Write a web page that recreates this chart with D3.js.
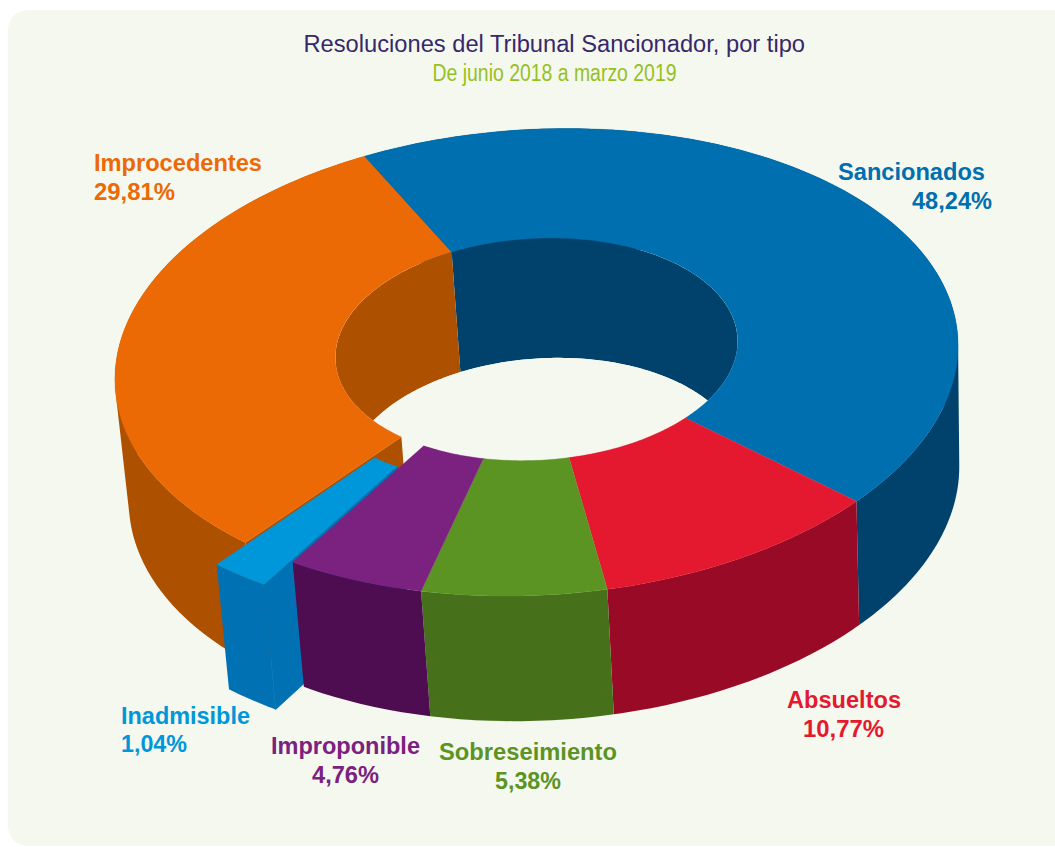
<!DOCTYPE html>
<html lang="es">
<head>
<meta charset="utf-8">
<title>Resoluciones del Tribunal Sancionador, por tipo</title>
<script src="https://cdn.jsdelivr.net/npm/d3@7/dist/d3.min.js"></script>
<style>
  html, body { margin: 0; padding: 0; background: #ffffff; }
  svg { display: block; }
  text { font-family: "Liberation Sans", Arial, sans-serif; }
</style>
</head>
<body>
<svg id="chart" width="1055" height="847"></svg>
<script>
// ---- data ----
const titleText = "Resoluciones del Tribunal Sancionador, por tipo";
const subtitleText = "De junio 2018 a marzo 2019";
const categories = ["Sancionados", "Absueltos", "Sobreseimiento", "Improponible", "Inadmisible", "Improcedentes"];
// Percentages printed on the chart's labels
const percentages = [48.24, 10.77, 5.38, 4.76, 1.04, 29.81];
// Wedge sizes as they are actually drawn in the picture (they differ from the printed percentages)
const drawnShares = [44.3, 10.36, 6.61, 5.06, 2.19, 31.47];

// ---- styles ----
const topColors  = ["#006fb0", "#e4192f", "#5c9424", "#7b2180", "#0097da", "#ec6a06"];
const wallColors = ["#00426b", "#990a26", "#46701a", "#4d0d50", "#0071b3", "#ad5000"];
const labelLayout = [
  { name: [838, 180, 147], pct: [912, 209, 80] },
  { name: [787, 708, 114], pct: [803, 737, 81] },
  { name: [439, 760, 178], pct: [495, 789, 66] },
  { name: [271, 754, 149], pct: [312, 783, 67] },
  { name: [121, 724, 129], pct: [121, 752, 66] },
  { name: [94, 171, 168],  pct: [94, 200, 81] }
];

// ---- ring projection ----
const width = 1055, height = 847;
const rad = Math.PI / 180;
const cx = 536.5, cy = 345.5, A = 420.5, B = 232;
const persp = 0.072, shear = -0.04;
const innerR = 0.478;
const explodedIndex = 4, explode = 0.1;
const base = { sx: 0.985, sy: 1.0146, dx: 7.5, dy: 121.4 };
const startDeg = 334.2;

const xScale = d3.scaleLinear().domain([-1, 1]).range([cx - A, cx + A]);
const yScale = d3.scaleLinear().domain([-1, 1]).range([cy - B, cy + B]);

function project(angle, r, bottom, off) {
  const X = (off ? off[0] : 0) + r * Math.sin(angle);
  const Y = (off ? off[1] : 0) - r * Math.cos(angle);
  const w = 1 - persp * Y;
  let px = xScale(X / w) - cx;
  let py = yScale(Y / w) - cy + shear * px;
  if (bottom) {
    px = px * base.sx + base.dx;
    py = py * base.sy + base.dy;
  }
  return [cx + px, cy + py];
}

function arcPts(a0, a1, r, bottom, off) {
  const n = Math.max(2, Math.ceil(Math.abs(a1 - a0) / rad));
  return d3.range(n + 1).map(i => project(a0 + (a1 - a0) * i / n, r, bottom, off));
}

const line = d3.line();

function topPath(s) {
  return line(arcPts(s.a0, s.a1, 1, false, s.off).concat(arcPts(s.a1, s.a0, innerR, false, s.off))) + "Z";
}
// Walls are overlapping quads, all wound the same way, so the silhouette stays solid
function wallPath(s, r) {
  const t = arcPts(s.a0, s.a1, r, false, s.off);
  const b = arcPts(s.a0, s.a1, r, true, s.off);
  return d3.range(t.length - 1).map(i => {
    const j = Math.min(i + 2, t.length - 1);
    const quad = [t[i], t[j], b[j], b[i]];
    if (d3.polygonArea(quad) < 0) quad.reverse();
    return line(quad) + "Z";
  }).join("");
}
function cutPath(angle, off) {
  return line([
    project(angle, 1, false, off), project(angle, innerR, false, off),
    project(angle, innerR, true, off), project(angle, 1, true, off)
  ]) + "Z";
}

const pie = d3.pie().sort(null)
  .startAngle(startDeg * rad)
  .endAngle(startDeg * rad + 2 * Math.PI);

const slices = pie(drawnShares).map((d, i) => {
  const s = { i, a0: d.startAngle, a1: d.endAngle, off: null };
  if (i === explodedIndex) {
    const m = (s.a0 + s.a1) / 2;
    s.off = [explode * Math.sin(m), -explode * Math.cos(m)];
  }
  return s;
});

// ---- drawing ----
const svg = d3.select("#chart");
const panelColor = "#f5f8ee";

svg.append("rect")
  .attr("x", 8).attr("y", 10)
  .attr("width", width + 20).attr("height", height - 10 - 1)
  .attr("rx", 20).attr("fill", panelColor);

function drawWall(s) {
  svg.append("path").attr("d", wallPath(s, 1)).attr("fill", wallColors[s.i]);
}
function drawTop(s) {
  svg.append("path").attr("d", topPath(s)).attr("fill", topColors[s.i]).attr("stroke", topColors[s.i]).attr("stroke-width", 0.3);
}

const wedge = slices[explodedIndex];
const neighbour = slices[5];

// Walls that reach round to the back go under everything, including the hole
drawWall(slices[0]);
drawWall(neighbour);

// Inner walls, seen through the hole
const fullCircle = [0, 2 * Math.PI];
svg.append("defs").append("clipPath").attr("id", "holeClip")
  .append("path")
  .attr("d", line(arcPts(fullCircle[0], fullCircle[1], innerR, false)) + "Z");

const hole = svg.append("g").attr("clip-path", "url(#holeClip)");
slices.filter(s => s.i !== explodedIndex).forEach(s => {
  hole.append("path").attr("d", wallPath(s, innerR)).attr("fill", wallColors[s.i]);
});
hole.append("path")
  .attr("d", line(arcPts(fullCircle[0], fullCircle[1], innerR, true)) + "Z")
  .attr("fill", panelColor);

// The slice behind the exploded wedge, with its exposed cut face
svg.append("path").attr("d", cutPath(neighbour.a0)).attr("fill", wallColors[neighbour.i]);
drawTop(neighbour);

// Exploded wedge
drawWall(wedge);
svg.append("path").attr("d", cutPath(wedge.a0, wedge.off))
  .attr("fill", wallColors[wedge.i]).attr("stroke", wallColors[wedge.i]).attr("stroke-width", 0.8);
drawTop(wedge);

// The remaining slices
slices.slice(1, explodedIndex).forEach(drawWall);
slices.slice(0, explodedIndex).forEach(drawTop);

// ---- text ----
const fmt = d3.formatLocale({ decimal: ",", thousands: ".", grouping: [3], currency: ["", ""] }).format(".2f");

function fitted(str, pos, color, size, weight) {
  svg.append("text")
    .attr("x", pos[0]).attr("y", pos[1])
    .attr("textLength", pos[2]).attr("lengthAdjust", "spacingAndGlyphs")
    .attr("font-size", size).attr("font-weight", weight)
    .attr("fill", color).text(str);
}

fitted(titleText, [303.5, 52, 501.5], "#36286b", 23, "normal");
fitted(subtitleText, [432.5, 81, 244], "#95c11f", 23, "normal");

categories.forEach((c, i) => {
  fitted(c, labelLayout[i].name, topColors[i], 24, "bold");
  fitted(fmt(percentages[i]) + "%", labelLayout[i].pct, topColors[i], 24, "bold");
});
</script>
</body>
</html>
